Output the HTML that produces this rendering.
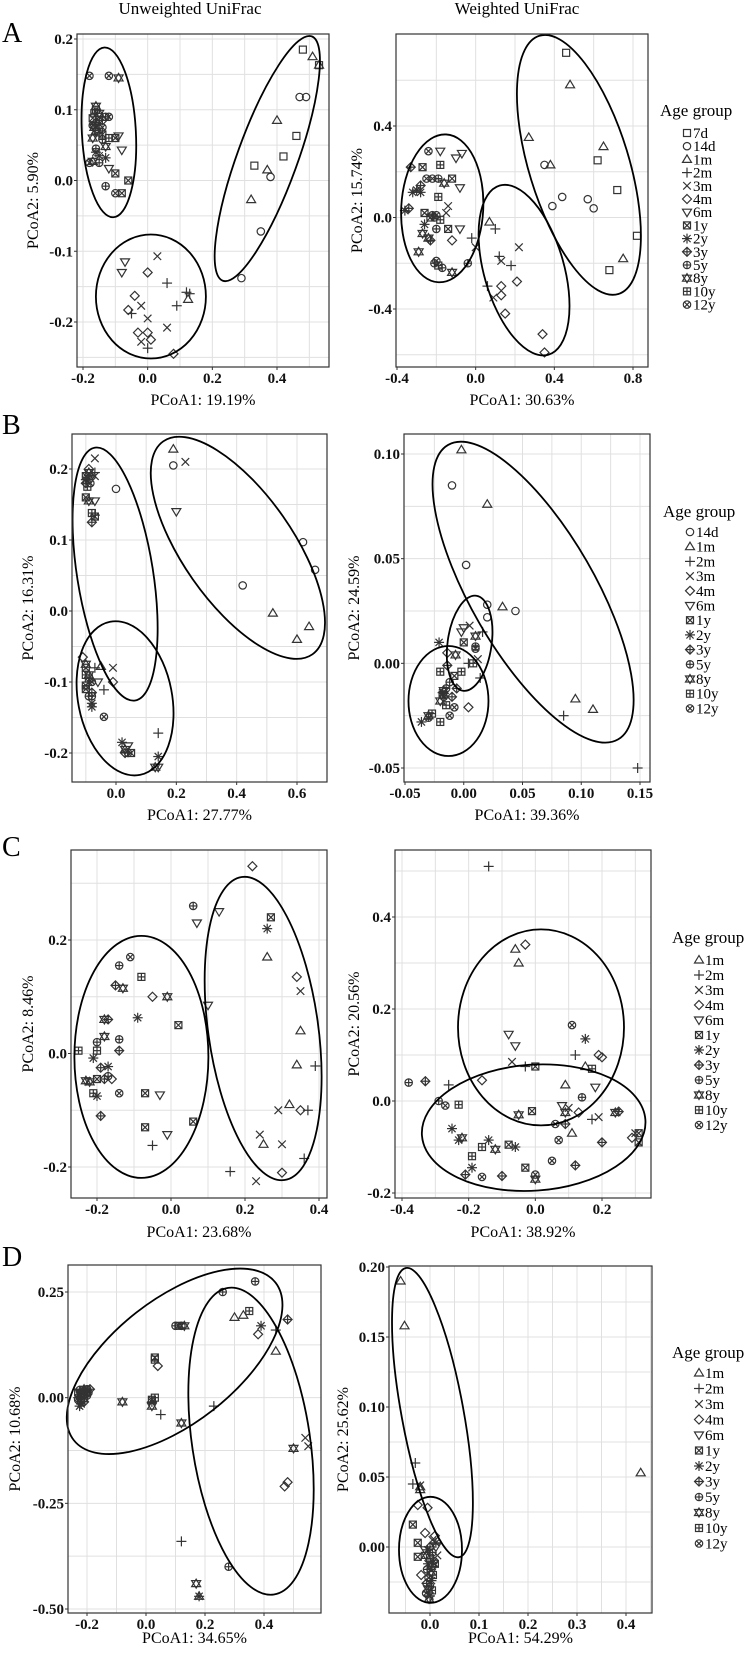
<!DOCTYPE html>
<html><head><meta charset="utf-8">
<style>
html,body{margin:0;padding:0;background:#fff;}
svg{display:block;font-family:"Liberation Serif",serif;}
</style></head>
<body>
<svg id="fig" width="751" height="1653" viewBox="0 0 751 1653" xmlns="http://www.w3.org/2000/svg">
<text x="190" y="14" text-anchor="middle" font-size="17" fill="#000">Unweighted UniFrac</text>
<text x="517" y="14" text-anchor="middle" font-size="17" fill="#000">Weighted UniFrac</text>
<text x="2" y="42" font-size="28" fill="#000">A</text>
<text x="2" y="434" font-size="28" fill="#000">B</text>
<text x="2" y="856" font-size="28" fill="#000">C</text>
<text x="2" y="1266" font-size="28" fill="#000">D</text>
</svg>
<script>
// ---------- data ----------
const aL_pts=[["12y",-0.18,0.148],["12y",-0.12,0.148],["8y",-0.09,0.145],["8y",-0.16,0.105],["10y",-0.165,0.095],["1y",-0.15,0.09],["12y",-0.12,0.09],["5y",-0.13,0.09],["3y",-0.14,0.085],["2y",-0.15,0.08],["12y",-0.17,0.078],["8y",-0.16,0.07],["1y",-0.14,0.065],["10y",-0.12,0.06],["6m",-0.09,0.063],["1y",-0.10,0.06],["5y",-0.16,0.045],["8y",-0.13,0.048],["6m",-0.08,0.043],["2y",-0.15,0.035],["2y",-0.13,0.032],["12y",-0.18,0.025],["8y",-0.17,0.027],["5y",-0.15,0.025],["6m",-0.12,0.017],["1y",-0.10,0.01],["1y",-0.06,0.0],["5y",-0.13,-0.008],["12y",-0.10,-0.018],["1y",-0.08,-0.018],["10y",-0.16,0.1],["8y",-0.15,0.095],["1y",-0.17,0.088],["3y",-0.16,0.082],["12y",-0.14,0.075],["10y",-0.15,0.068],["8y",-0.17,0.06],["5y",-0.14,0.058],["2y",-0.16,0.04],["8y",-0.165,0.075],
["6m",-0.07,-0.115],["6m",-0.08,-0.13],["3m",0.03,-0.107],["4m",0.0,-0.13],["2m",0.06,-0.145],["4m",-0.04,-0.163],["2m",0.12,-0.158],["2m",0.13,-0.16],["1m",0.125,-0.168],["2m",0.09,-0.177],["3m",-0.02,-0.177],["4m",-0.06,-0.183],["2m",-0.05,-0.188],["3m",0.0,-0.195],["3m",0.06,-0.208],["4m",-0.03,-0.215],["4m",0.0,-0.215],["3m",-0.02,-0.228],["4m",0.01,-0.225],["2m",0.0,-0.237],["4m",0.08,-0.245],
["7d",0.48,0.185],["1m",0.51,0.175],["7d",0.53,0.163],["1m",0.53,0.163],["14d",0.47,0.118],["14d",0.49,0.118],["1m",0.40,0.085],["7d",0.46,0.063],["7d",0.42,0.034],["7d",0.33,0.021],["1m",0.37,0.015],["14d",0.38,0.005],["1m",0.32,-0.027],["14d",0.35,-0.072],["14d",0.29,-0.138]];
const aL_ell=[[-0.12,0.068,27,85,-3],[0.01,-0.164,55,62,0],[0.37,0.031,30,130,20]];

const aR_pts=[["7d",0.46,0.72],["1m",0.48,0.58],["1m",0.27,0.35],["1m",0.65,0.31],["14d",0.35,0.23],["1m",0.38,0.23],["7d",0.62,0.25],["7d",0.72,0.12],["14d",0.39,0.05],["14d",0.44,0.09],["14d",0.57,0.08],["14d",0.60,0.04],["7d",0.82,-0.08],["1m",0.75,-0.18],["7d",0.68,-0.23],
["1m",0.07,-0.02],["2m",0.1,-0.05],["2m",-0.02,-0.09],["3m",0.0,-0.13],["3m",0.22,-0.13],["2m",0.12,-0.17],["3m",0.13,-0.19],["2m",0.18,-0.21],["2m",0.06,-0.3],["4m",0.13,-0.3],["4m",0.21,-0.28],["3m",0.09,-0.35],["4m",0.13,-0.34],["4m",0.15,-0.42],["4m",0.34,-0.51],["4m",0.35,-0.59],["4m",-0.12,-0.1],
["12y",-0.24,0.29],["6m",-0.18,0.29],["6m",-0.07,0.28],["6m",-0.1,0.26],["3y",-0.33,0.22],["1y",-0.27,0.22],["10y",-0.18,0.23],["12y",-0.25,0.17],["12y",-0.22,0.17],["5y",-0.19,0.17],["1y",-0.12,0.17],["8y",-0.16,0.15],["6m",-0.08,0.13],["3y",-0.28,0.14],["2y",-0.32,0.11],["2y",-0.28,0.11],["2y",-0.3,0.12],["10y",-0.19,0.09],["3m",-0.14,0.05],["2y",-0.36,0.03],["3y",-0.34,0.04],["1y",-0.26,0.02],["5y",-0.22,0.01],["12y",-0.2,0.01],["10y",-0.18,-0.01],["3m",-0.15,0.02],["6m",-0.08,-0.05],["2y",-0.26,-0.03],["8y",-0.27,-0.07],["8y",-0.24,-0.09],["5y",-0.2,-0.05],["1y",-0.14,-0.05],["3y",-0.23,-0.1],["8y",-0.29,-0.15],["5y",-0.21,-0.2],["10y",-0.19,-0.21],["5y",-0.17,-0.22],["8y",-0.12,-0.24],["5y",-0.04,-0.2],["12y",-0.2,-0.19],["12y",-0.21,-0.0],["1y",-0.23,0.0]];
const aR_ell=[[-0.17,0.04,41,74,3],[0.246,-0.23,40,88,-16],[0.525,0.23,50,135,-17]];
const aR_leg=["7d","14d","1m","2m","3m","4m","6m","1y","2y","3y","5y","8y","10y","12y"];

const bL_pts=[["3m",-0.07,0.215],["4m",-0.09,0.2],["8y",-0.09,0.195],["1y",-0.1,0.19],["2y",-0.1,0.185],["3y",-0.1,0.18],["2m",-0.07,0.195],["3m",-0.07,0.19],["5y",-0.08,0.19],["12y",-0.09,0.185],["14d",0.0,0.172],["1y",-0.1,0.16],["6m",-0.07,0.155],["8y",-0.09,0.155],["10y",-0.08,0.138],["1y",-0.07,0.133],["3y",-0.08,0.125],["2m",-0.07,0.135],["10y",-0.095,0.175],["12y",-0.085,0.18],
["4m",-0.11,-0.065],["1y",-0.1,-0.08],["10y",-0.1,-0.09],["2y",-0.09,-0.1],["1y",-0.1,-0.105],["8y",-0.09,-0.09],["12y",-0.08,-0.1],["2m",-0.07,-0.08],["1m",-0.05,-0.078],["3m",-0.01,-0.08],["6m",-0.06,-0.1],["4m",-0.01,-0.1],["2m",-0.04,-0.111],["3y",-0.08,-0.115],["5y",-0.08,-0.12],["2y",-0.08,-0.13],["2y",-0.08,-0.135],["12y",-0.04,-0.149],["2y",0.02,-0.185],["6m",0.04,-0.19],["8y",0.03,-0.195],["3y",0.03,-0.2],["1y",0.05,-0.2],["5y",0.04,-0.2],["2m",0.14,-0.172],["2y",0.14,-0.205],["6m",0.14,-0.22],["8y",0.13,-0.22],["1y",-0.1,-0.11],["10y",-0.09,-0.095],["5y",-0.09,-0.12],["8y",-0.1,-0.075],
["1m",0.19,0.228],["14d",0.19,0.205],["3m",0.23,0.21],["6m",0.2,0.14],["14d",0.62,0.097],["14d",0.66,0.058],["14d",0.42,0.036],["1m",0.52,-0.003],["1m",0.64,-0.022],["1m",0.6,-0.04]];
const bL_ell=[[-0.003,0.052,38,128,-9],[0.03,-0.123,47,78,-11],[0.404,0.089,55,130,-35]];

const bR_pts=[["1m",-0.002,0.102],["14d",-0.01,0.085],["1m",0.02,0.076],["14d",0.002,0.047],["14d",0.02,0.028],["1m",0.033,0.027],["14d",0.044,0.025],["14d",0.02,0.022],["6m",0.0,0.017],["3m",0.005,0.018],["6m",-0.002,0.015],["2m",0.016,0.015],["1y",0.0,0.01],["8y",0.01,0.013],["5y",0.01,0.008],["12y",0.01,0.007],["3m",0.012,0.002],["2m",0.004,0.0],["10y",0.008,0.0],["2y",-0.021,0.01],["4m",-0.014,0.005],["8y",-0.007,0.004],["2m",0.014,-0.007],["3y",-0.014,-0.001],["10y",-0.02,-0.004],["10y",-0.002,-0.004],["1y",-0.008,-0.006],["5y",-0.012,-0.009],["3y",-0.006,-0.012],["2y",-0.018,-0.014],["8y",-0.017,-0.013],["12y",-0.017,-0.016],["8y",-0.02,-0.018],["10y",-0.015,-0.02],["12y",-0.008,-0.021],["4m",0.004,-0.021],["10y",-0.027,-0.024],["12y",-0.012,-0.025],["2y",-0.036,-0.028],["12y",-0.03,-0.026],["10y",-0.02,-0.028],["8y",-0.03,-0.025],["1y",-0.018,-0.015],["5y",-0.015,-0.012],["3y",-0.01,-0.016],["1m",0.095,-0.017],["1m",0.11,-0.022],["2m",0.085,-0.025],["2m",0.148,-0.05]];
const bR_ell=[[0.059,0.034,62,170,-30],[0.005,0.0096,22,48,8],[-0.013,-0.018,40,55,0]];
const bR_leg=["14d","1m","2m","3m","4m","6m","1y","2y","3y","5y","8y","10y","12y"];

const cL_pts=[["4m",0.22,0.33],["5y",0.06,0.26],["6m",0.07,0.23],["6m",0.13,0.25],["1y",0.27,0.24],["2y",0.26,0.22],["1m",0.26,0.17],["12y",-0.11,0.17],["5y",-0.14,0.155],["10y",-0.08,0.135],["3y",-0.15,0.12],["8y",-0.13,0.115],["4m",-0.05,0.1],["8y",-0.01,0.1],["6m",0.1,0.085],["4m",0.34,0.135],["3m",0.35,0.11],["2y",-0.09,0.063],["8y",-0.18,0.06],["3y",-0.17,0.06],["1y",0.02,0.05],["1m",0.35,0.04],["5y",-0.2,0.02],["8y",-0.18,0.03],["5y",-0.14,0.025],["10y",-0.25,0.005],["10y",-0.2,0.005],["3y",-0.14,0.005],["2y",-0.21,-0.008],["3y",-0.19,-0.025],["2y",-0.17,-0.023],["8y",-0.23,-0.048],["8y",-0.22,-0.05],["1y",-0.2,-0.045],["3y",-0.18,-0.045],["5y",-0.17,-0.04],["4m",-0.16,-0.045],["10y",-0.21,-0.07],["2y",-0.2,-0.075],["12y",-0.14,-0.07],["1y",-0.07,-0.07],["6m",-0.03,-0.073],["1m",0.34,-0.02],["2m",0.39,-0.022],["3y",-0.19,-0.11],["1y",0.06,-0.12],["1y",-0.07,-0.13],["6m",-0.01,-0.143],["2m",-0.05,-0.162],["1m",0.32,-0.09],["3m",0.29,-0.1],["4m",0.35,-0.1],["2m",0.37,-0.1],["3m",0.24,-0.143],["1m",0.25,-0.16],["3m",0.3,-0.16],["2m",0.36,-0.185],["2m",0.16,-0.208],["4m",0.3,-0.21],["3m",0.23,-0.225]];
const cL_ell=[[-0.08,-0.006,67,121,0],[0.249,0.044,55,153,-8]];

const cR_pts=[["2m",-0.14,0.51],["1m",-0.06,0.33],["4m",-0.03,0.34],["1m",-0.05,0.3],["12y",0.11,0.165],["2y",0.15,0.135],["6m",-0.08,0.145],["6m",-0.06,0.12],["2m",0.12,0.1],["4m",0.19,0.1],["4m",0.2,0.095],["3m",-0.07,0.085],["2m",-0.03,0.075],["1y",0.0,0.075],["1m",0.15,0.075],["10y",0.17,0.07],["4m",-0.16,0.045],["5y",-0.38,0.04],["3y",-0.33,0.043],["2m",-0.26,0.035],["1m",0.09,0.035],["6m",0.18,0.03],["5y",0.14,0.008],["5y",-0.29,0.0],["12y",-0.27,-0.01],["10y",-0.23,-0.008],["6m",0.08,-0.01],["3m",0.1,-0.015],["8y",0.09,-0.025],["4m",0.13,-0.025],["1y",-0.01,-0.022],["8y",-0.05,-0.03],["2m",0.17,-0.04],["3m",0.19,-0.035],["8y",0.24,-0.025],["3y",0.25,-0.023],["12y",0.06,-0.05],["3y",0.09,-0.05],["2y",-0.25,-0.06],["1m",0.11,-0.07],["3m",0.3,-0.07],["4m",0.29,-0.08],["1y",0.31,-0.07],["1y",0.31,-0.09],["8y",-0.22,-0.08],["2y",-0.23,-0.085],["2y",-0.14,-0.085],["12y",0.07,-0.085],["3y",0.2,-0.09],["10y",-0.16,-0.1],["8y",-0.12,-0.105],["1y",-0.08,-0.095],["2y",-0.06,-0.1],["10y",-0.19,-0.12],["12y",0.05,-0.13],["3y",0.12,-0.14],["2y",-0.19,-0.145],["1y",-0.03,-0.145],["3y",-0.21,-0.16],["12y",-0.16,-0.165],["3y",-0.1,-0.163],["12y",0.0,-0.16],["8y",0.0,-0.17]];
const cR_ell=[[0.017,0.16,83,98,0],[-0.005,-0.058,112,63,-4]];
const cR_leg=["1m","2m","3m","4m","6m","1y","2y","3y","5y","8y","10y","12y"];

const dL_pts=[["1y",-0.22,0.01],["2y",-0.23,0.0],["3y",-0.21,0.015],["5y",-0.2,0.02],["8y",-0.22,0.005],["10y",-0.21,0.0],["12y",-0.2,0.01],["2y",-0.22,-0.015],["3y",-0.19,0.02],["1y",-0.23,0.012],["8y",-0.21,0.02],["10y",-0.22,-0.005],["12y",-0.23,-0.005],["5y",-0.2,0.005],["3y",-0.21,-0.01],["2y",-0.225,-0.02],["1y",-0.2,0.015],["8y",-0.215,0.008],["12y",-0.195,0.012],["5y",-0.225,0.018],
["5y",0.37,0.275],["5y",0.26,0.25],["10y",0.35,0.205],["1m",0.3,0.19],["1m",0.33,0.195],["3y",0.48,0.185],["2y",0.39,0.17],["2m",0.44,0.16],["4m",0.38,0.15],["1m",0.44,0.11],["1y",0.11,0.17],["12y",0.12,0.17],["8y",0.13,0.17],["5y",0.1,0.17],["1y",0.03,0.095],["10y",0.03,0.09],["4m",0.04,0.075],["8y",-0.08,-0.01],["10y",0.03,0.0],["1y",0.02,-0.005],["2y",0.02,-0.01],["8y",0.02,-0.02],["2m",0.05,-0.04],["2m",0.23,-0.02],["8y",0.12,-0.06],["8y",0.5,-0.12],["3m",0.54,-0.095],["3m",0.55,-0.115],["4m",0.48,-0.2],["4m",0.47,-0.21],["2m",0.12,-0.34],["5y",0.28,-0.4],["8y",0.17,-0.44],["2y",0.18,-0.47],["1m",0.18,-0.47]];
const dL_ell=[[0.097,0.086,128,62,-38],[0.356,-0.103,59,155,-8.5]];

const dR_pts=[["1m",-0.06,0.19],["1m",-0.052,0.158],["2m",-0.03,0.06],["2m",-0.035,0.045],["1m",-0.02,0.043],["3m",-0.02,0.044],["1m",-0.02,0.041],["4m",-0.025,0.03],["4m",-0.005,0.028],["1y",-0.035,0.016],["4m",-0.01,0.01],["4m",0.01,0.008],["3m",0.005,0.005],["1y",-0.025,0.003],["1y",-0.025,-0.007],["1m",0.43,0.053],
["2y",-0.005,-0.002],["3y",0.0,0.0],["5y",0.005,-0.004],["8y",-0.008,-0.006],["10y",0.0,-0.008],["12y",0.008,-0.01],["2y",-0.004,-0.012],["3y",0.004,-0.014],["5y",-0.006,-0.016],["8y",0.002,-0.018],["10y",0.006,-0.02],["12y",-0.003,-0.022],["2y",0.003,-0.024],["3y",-0.007,-0.026],["5y",0.0,-0.028],["8y",-0.004,-0.03],["10y",0.004,-0.031],["12y",-0.008,-0.033],["2y",0.0,-0.035],["8y",-0.002,-0.037],["4m",-0.018,-0.02],["6m",0.012,0.0],["3m",0.015,-0.006],["1y",0.01,-0.012],["6m",-0.01,-0.002],["2y",0.012,0.003]];
const dR_ell=[[0.005,0.096,31,147,-10.4],[0.001,-0.002,31.5,53,0]];
const dR_leg=["1m","2m","3m","4m","6m","1y","2y","3y","5y","8y","10y","12y"];

// tick value arrays
const aL_xt=[-0.2,0,0.2,0.4], aL_yt=[0.2,0.1,0,-0.1,-0.2];
const aR_xt=[-0.4,0,0.4,0.8], aR_yt=[0.4,0,-0.4];
const bL_xt=[0,0.2,0.4,0.6], bL_yt=[0.2,0.1,0,-0.1,-0.2];
const bR_xt=[-0.05,0,0.05,0.1,0.15], bR_yt=[0.1,0.05,0,-0.05];
const cL_xt=[-0.2,0,0.2,0.4], cL_yt=[0.2,0,-0.2];
const cR_xt=[-0.4,-0.2,0,0.2], cR_yt=[0.4,0.2,0,-0.2];
const dL_xt=[-0.2,0,0.2,0.4], dL_yt=[0.25,0,-0.25,-0.5];
const dR_xt=[0,0.1,0.2,0.3,0.4], dR_yt=[0.2,0.15,0.1,0.05,0];

// ---------- drawing ----------
const NS="http://www.w3.org/2000/svg";
const svg=document.getElementById('fig');
function el(tag,attrs,parent){const e=document.createElementNS(NS,tag);for(const k in attrs)e.setAttribute(k,attrs[k]);(parent||svg).appendChild(e);return e;}
function lin(v0,p0,v1,p1){return v=>p0+(v-v0)*(p1-p0)/(v1-v0);}

function marker(g,t,x,y){
  const s="#333",o={fill:"none",stroke:s,"stroke-width":1.2};
  const L=(x1,y1,x2,y2)=>el('line',Object.assign({x1:x1,y1:y1,x2:x2,y2:y2},o),g);
  const sq=()=>el('rect',Object.assign({x:x-3.5,y:y-3.5,width:7,height:7},o),g);
  const ci=()=>el('circle',Object.assign({cx:x,cy:y,r:3.7},o),g);
  const di=()=>el('polygon',Object.assign({points:`${x},${y-4.5} ${x+4.5},${y} ${x},${y+4.5} ${x-4.5},${y}`},o),g);
  const tu=()=>el('polygon',Object.assign({points:`${x},${y-4.5} ${x+4.5},${y+3} ${x-4.5},${y+3}`},o),g);
  const td=()=>el('polygon',Object.assign({points:`${x},${y+4.5} ${x+4.5},${y-3} ${x-4.5},${y-3}`},o),g);
  const pl=(r)=>{L(x-r,y,x+r,y);L(x,y-r,x,y+r);};
  const cr=(r)=>{L(x-r,y-r,x+r,y+r);L(x-r,y+r,x+r,y-r);};
  switch(t){
    case"7d":sq();break;case"14d":ci();break;case"1m":tu();break;case"2m":pl(5);break;
    case"3m":cr(3.8);break;case"4m":di();break;case"6m":td();break;
    case"1y":sq();cr(3.5);break;case"2y":pl(5);cr(3.6);break;case"3y":di();pl(4.5);break;
    case"5y":ci();pl(3.7);break;case"8y":tu();td();break;case"10y":sq();pl(3.5);break;case"12y":ci();cr(2.6);break;
  }
}
function fmt(v,d){return v.toFixed(d);}

function panel(name,c){
  const g=el('g',{});
  
  
  const [x0,y0,x1,y1]=c.box;
  const X=lin(...c.xa),Y=lin(...c.ya);
  const grid=el('g',{},g);
  
  
  const xs=c.xt.slice().sort((a,b)=>a-b),ys=c.yt.slice().sort((a,b)=>a-b);
  const dx=xs[1]-xs[0],dy=ys[1]-ys[0];
  for(let v=xs[0]-dx*1.5;v<=xs[xs.length-1]+dx*1.6;v+=dx/2){const p=X(v);if(p>x0+1&&p<x1-1)el('line',{x1:p,y1:y0,x2:p,y2:y1,stroke:"#e0e0e0","stroke-width":1},grid);}
  for(let v=ys[0]-dy*1.5;v<=ys[ys.length-1]+dy*1.6;v+=dy/2){const p=Y(v);if(p>y0+1&&p<y1-1)el('line',{x1:x0,y1:p,x2:x1,y2:p,stroke:"#e0e0e0","stroke-width":1},grid);}
  for(const v of c.xt){const p=X(v);el('line',{x1:p,y1:y1,x2:p,y2:y1+3,stroke:"#333"},g);
    const t=el('text',{x:p,y:y1+16,"text-anchor":"middle","font-size":15,"font-weight":"bold",fill:"#111"},g);t.textContent=fmt(v,c.xd);
    }
  for(const v of c.yt){const p=Y(v);el('line',{x1:x0-3,y1:p,x2:x0,y2:p,stroke:"#333"},g);
    const t=el('text',{x:x0-4,y:p+5,"text-anchor":"end","font-size":15,"font-weight":"bold",fill:"#111"},g);t.textContent=fmt(v,c.yd);
    }
  const pts=el('g',{},g);
  
  
  for(const [grp,vx,vy] of c.pts) marker(pts,grp,X(vx),Y(vy));
  for(const [cx,cy,rx,ry,a] of c.ell){
    const e=el('ellipse',{cx:X(cx),cy:Y(cy),rx:rx,ry:ry,fill:"none",stroke:"#000","stroke-width":1.8,transform:`rotate(${a} ${X(cx)} ${Y(cy)})`},g);
    
    
  }
  const b=el('rect',{x:x0,y:y0,width:x1-x0,height:y1-y0,fill:"none",stroke:"#333","stroke-width":1.2},g);
  
  
  const xl=el('text',{x:(x0+x1)/2,y:c.xlY,"text-anchor":"middle","font-size":16,fill:"#000"},g);xl.textContent=c.xlab;
  
  
  const ym=(y0+y1)/2;
  const yl=el('text',{x:c.ylX,y:ym,"text-anchor":"middle","font-size":16,fill:"#000",transform:`rotate(-90 ${c.ylX} ${ym})`},g);yl.textContent=c.ylab;
  
  
  if(c.leg){
    const lg=el('g',{},g);
    
    
    const tt=el('text',{x:c.legX-27,y:c.legTY+5,"font-size":17,fill:"#000"},lg);tt.textContent="Age group";
    c.leg.forEach((grp,i)=>{const yy=c.legY+i*c.legS;marker(lg,grp,c.legX,yy);
      const t=el('text',{x:c.legX+6,y:yy+5,"font-size":15,fill:"#000"},lg);t.textContent=grp;
      });
  }
}

panel('a-unweighted',{box:[77,34,329,367],xa:[-0.2,83,0.4,277],ya:[0.2,39,-0.2,322],xt:aL_xt,yt:aL_yt,xd:1,yd:1,pts:aL_pts,ell:aL_ell,xlab:"PCoA1: 19.19%",xlY:405,ylab:"PCoA2: 5.90%",ylX:38});
panel('a-weighted',{box:[396,34,648,367],xa:[-0.4,397,0.8,633],ya:[0.4,126,-0.4,309],xt:aR_xt,yt:aR_yt,xd:1,yd:1,pts:aR_pts,ell:aR_ell,xlab:"PCoA1: 30.63%",xlY:405,ylab:"PCoA2: 15.74%",ylX:362,leg:aR_leg,legX:687,legTY:111,legY:133,legS:13.2});
panel('b-unweighted',{box:[72,434,327,782],xa:[0,116,0.6,297],ya:[0.2,469,-0.2,753],xt:bL_xt,yt:bL_yt,xd:1,yd:1,pts:bL_pts,ell:bL_ell,xlab:"PCoA1: 27.77%",xlY:820,ylab:"PCoA2: 16.31%",ylX:33});
panel('b-weighted',{box:[404,434,650,782],xa:[-0.05,405,0.15,640],ya:[0.1,454,-0.05,768],xt:bR_xt,yt:bR_yt,xd:2,yd:2,pts:bR_pts,ell:bR_ell,xlab:"PCoA1: 39.36%",xlY:820,ylab:"PCoA2: 24.59%",ylX:359,leg:bR_leg,legX:690,legTY:512,legY:532,legS:14.7});
panel('c-unweighted',{box:[71,850,327,1198],xa:[-0.2,97,0.4,319],ya:[0.2,940,-0.2,1167],xt:cL_xt,yt:cL_yt,xd:1,yd:1,pts:cL_pts,ell:cL_ell,xlab:"PCoA1: 23.68%",xlY:1237,ylab:"PCoA2: 8.46%",ylX:33});
panel('c-weighted',{box:[395,850,651,1198],xa:[-0.4,402,0.2,602],ya:[0.4,917,-0.2,1193],xt:cR_xt,yt:cR_yt,xd:1,yd:1,pts:cR_pts,ell:cR_ell,xlab:"PCoA1: 38.92%",xlY:1237,ylab:"PCoA2: 20.56%",ylX:359,leg:cR_leg,legX:699,legTY:938,legY:960,legS:15});
panel('d-unweighted',{box:[68,1265,321,1613],xa:[-0.2,87,0.4,264],ya:[0.25,1292,-0.5,1609],xt:dL_xt,yt:dL_yt,xd:1,yd:2,pts:dL_pts,ell:dL_ell,xlab:"PCoA1: 34.65%",xlY:1643,ylab:"PCoA2: 10.68%",ylX:20});
panel('d-weighted',{box:[389,1266,652,1613],xa:[0,430,0.4,626],ya:[0.2,1267,0,1547],xt:dR_xt,yt:dR_yt,xd:1,yd:2,pts:dR_pts,ell:dR_ell,xlab:"PCoA1: 54.29%",xlY:1643,ylab:"PCoA2: 25.62%",ylX:348,leg:dR_leg,legX:699,legTY:1353,legY:1373,legS:15.5});
</script>
</body></html>
